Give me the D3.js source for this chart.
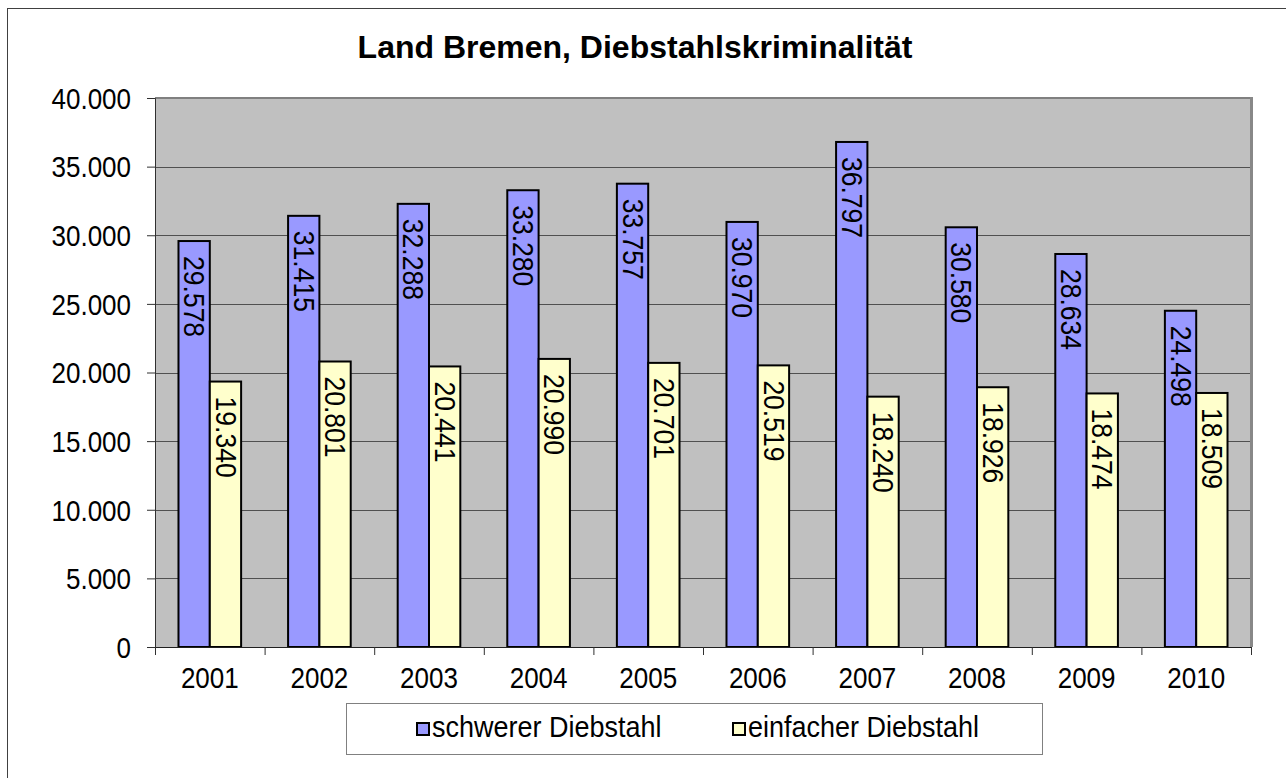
<!DOCTYPE html>
<html>
<head>
<meta charset="utf-8">
<script src="https://cdn.jsdelivr.net/npm/d3@7"></script>
<style>
    body { margin: 0; background: #fff; }
    text { font-family: Arial, "Liberation Sans", sans-serif; fill: #000; }
</style>
</head>
<body>
<svg id="chart"></svg>
<script>
const years = ['2001', '2002', '2003', '2004', '2005', '2006', '2007', '2008', '2009', '2010'];
const seriesNames = ['schwerer Diebstahl', 'einfacher Diebstahl'];
const schwer = [29578, 31415, 32288, 33280, 33757, 30970, 36797, 30580, 28634, 24498];
const einfach = [19340, 20801, 20441, 20990, 20701, 20519, 18240, 18926, 18474, 18509];
const yTicks = [0, 5000, 10000, 15000, 20000, 25000, 30000, 35000, 40000];
const colors = ['#9999ff', '#ffffcc'];

const width = 1286, height = 778;
const plot = {left: 155, top: 98, right: 1251, bottom: 647};
const stretch = 1.1; // the glyphs in the picture are a bit taller than Arial

const de = d3.formatLocale({decimal: ',', thousands: '.', grouping: [3], currency: ['', ' €']});
const fmt = de.format(',d');

const svg = d3.select('#chart').attr('width', width).attr('height', height);

// outer chart frame
svg.append('rect')
    .attr('x', 7.5).attr('y', 8.5)
    .attr('width', width + 10).attr('height', height + 10)
    .attr('fill', '#fff').attr('stroke', '#404040').attr('stroke-width', 1);

const x0 = d3.scaleBand().domain(years).range([plot.left, plot.right]);
const x1 = d3.scaleBand().domain([0, 1]).range([0, x0.bandwidth()]).paddingOuter(0.75);
const y = d3.scaleLinear().domain([0, 40000]).range([plot.bottom, plot.top]);

// plot background
svg.append('rect')
    .attr('x', plot.left).attr('y', plot.top)
    .attr('width', plot.right - plot.left).attr('height', plot.bottom - plot.top)
    .attr('fill', '#c0c0c0');

// grid lines
svg.append('g')
    .selectAll('line')
    .data(yTicks.filter(d => d > 0 && d < 40000))
    .enter().append('line')
    .attr('x1', plot.left).attr('x2', plot.right)
    .attr('y1', d => Math.round(y(d)) + 0.5).attr('y2', d => Math.round(y(d)) + 0.5)
    .attr('stroke', '#505050').attr('stroke-width', 1);

// plot frame: top and right edges gray
svg.append('line')
    .attr('x1', plot.left).attr('x2', plot.right + 1)
    .attr('y1', plot.top).attr('y2', plot.top)
    .attr('stroke', '#808080').attr('stroke-width', 2);
svg.append('line')
    .attr('x1', plot.right + 0.5).attr('x2', plot.right + 0.5)
    .attr('y1', plot.top - 1).attr('y2', plot.bottom)
    .attr('stroke', '#888888').attr('stroke-width', 3);

// bars
const groups = svg.append('g')
    .selectAll('g')
    .data(years)
    .enter().append('g')
    .attr('transform', d => 'translate(' + x0(d) + ',0)');

[schwer, einfach].forEach((values, s) => {
    groups.append('rect')
        .attr('x', x1(s))
        .attr('y', (d, i) => y(values[i]))
        .attr('width', x1.bandwidth())
        .attr('height', (d, i) => y(0) - y(values[i]))
        .attr('fill', colors[s])
        .attr('stroke', '#000')
        .attr('stroke-width', 2);

    groups.append('text')
        .attr('transform', (d, i) => {
            let cx = x1(s) + x1.bandwidth() / 2;
            let ty = y(values[i]) + 15;
            return 'translate(' + cx + ',' + ty + ') rotate(90) scale(1.02,' + stretch + ')';
        })
        .attr('dominant-baseline', 'central')
        .attr('text-anchor', 'start')
        .style('font-size', '26px')
        .text((d, i) => fmt(values[i]));
});

// y axis
const yAxis = svg.append('g')
    .attr('transform', 'translate(' + plot.left + ',0)')
    .call(d3.axisLeft(y).tickValues(yTicks).tickFormat(fmt).tickSize(8).tickPadding(16));
yAxis.select('.domain').attr('stroke', '#303030');
yAxis.selectAll('.tick line').attr('stroke', '#303030');
yAxis.selectAll('.tick text')
    .attr('dy', '0.36em')
    .attr('transform', 'scale(1,' + stretch + ')')
    .style('font-size', '26px')
    .style('font-family', 'Arial, "Liberation Sans", sans-serif');

// x axis with ticks between categories
const xAxis = svg.append('g')
    .attr('transform', 'translate(0,' + plot.bottom + ')');
xAxis.append('line')
    .attr('x1', plot.left).attr('x2', plot.right)
    .attr('y1', 0.5).attr('y2', 0.5)
    .attr('stroke', '#202020');
xAxis.selectAll('.sep')
    .data(years.concat(['end']))
    .enter().append('line')
    .attr('x1', (d, i) => i < years.length ? x0(d) + 0.5 : plot.right + 0.5)
    .attr('x2', (d, i) => i < years.length ? x0(d) + 0.5 : plot.right + 0.5)
    .attr('y1', 0).attr('y2', 8)
    .attr('stroke', '#303030');
xAxis.selectAll('.lbl')
    .data(years)
    .enter().append('text')
    .attr('transform', d => 'translate(' + (x0(d) + x0.bandwidth() / 2) + ',41) scale(1,' + stretch + ')')
    .attr('text-anchor', 'middle')
    .style('font-size', '26px')
    .text(d => d);

// title
svg.append('text')
    .attr('x', 635).attr('y', 58)
    .attr('text-anchor', 'middle')
    .style('font-size', '32px')
    .style('font-weight', 'bold')
    .text('Land Bremen, Diebstahlskriminalität');

// legend
const legend = svg.append('g').attr('transform', 'translate(346,703)');
legend.append('rect')
    .attr('x', 0.5).attr('y', 0.5)
    .attr('width', 696).attr('height', 51)
    .attr('fill', '#fff').attr('stroke', '#808080');
const legendX = [71, 387];
seriesNames.forEach((name, s) => {
    legend.append('rect')
        .attr('x', legendX[s]).attr('y', 20)
        .attr('width', 12).attr('height', 12)
        .attr('fill', colors[s]).attr('stroke', '#000').attr('stroke-width', 2);
    legend.append('text')
        .attr('transform', 'translate(' + (legendX[s] + 15) + ',34) scale(1,' + stretch + ')')
        .style('font-size', '27px')
        .text(name);
});
</script>
</body>
</html>
